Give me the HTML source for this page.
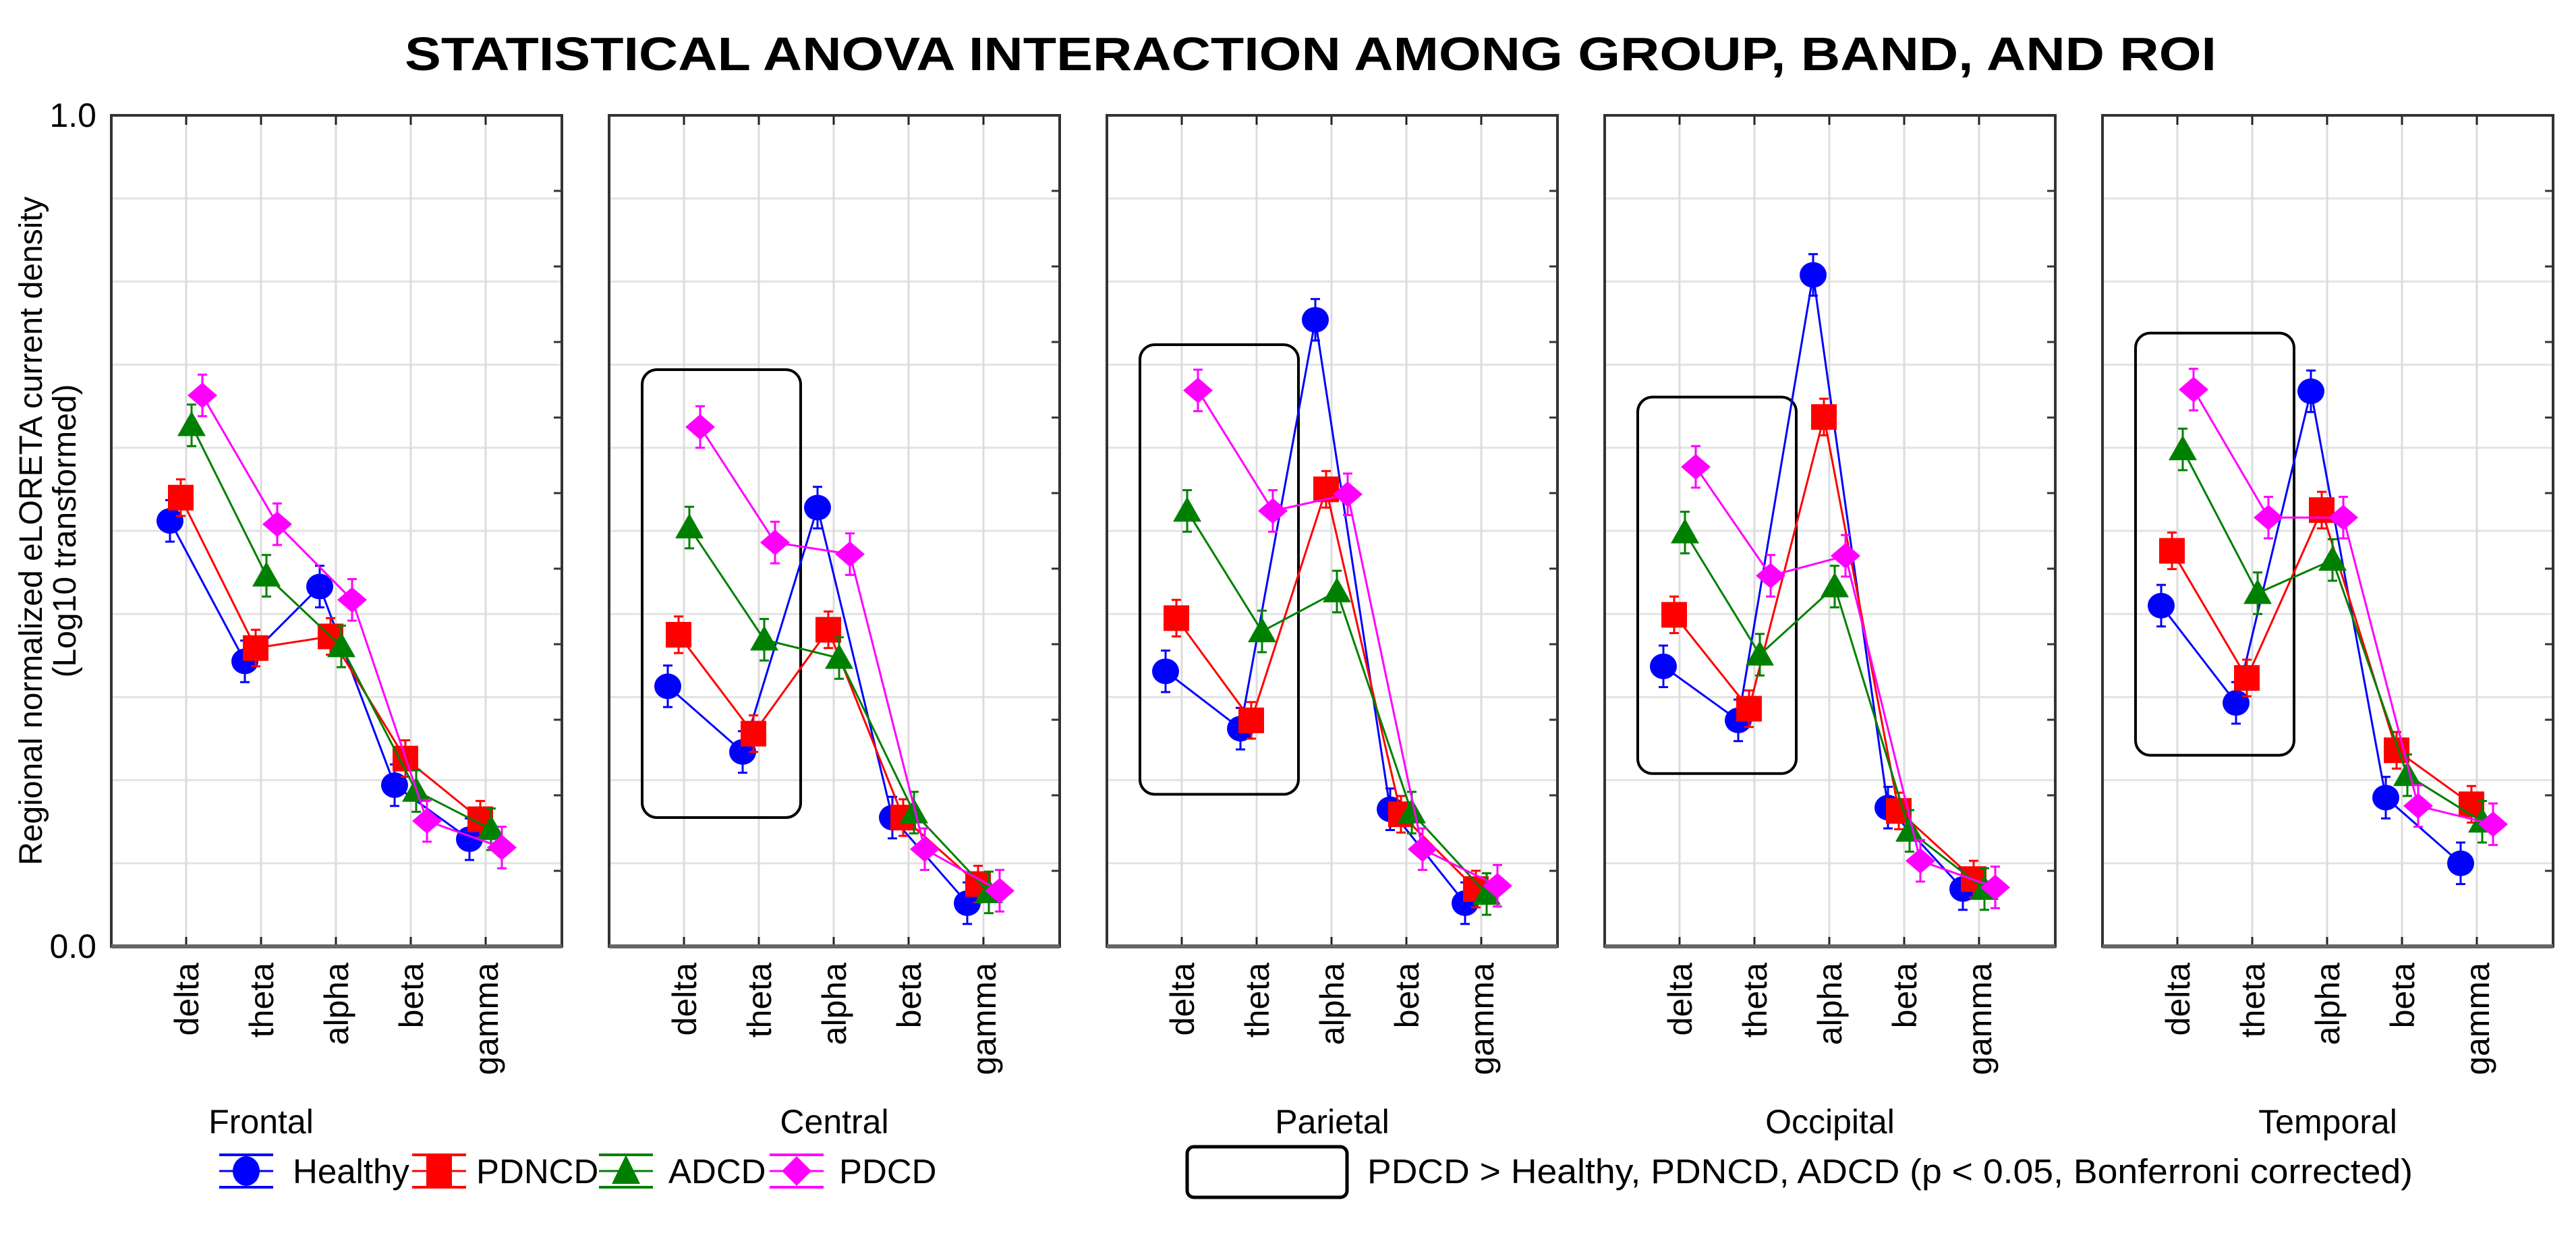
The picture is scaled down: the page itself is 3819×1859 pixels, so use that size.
<!DOCTYPE html>
<html><head><meta charset="utf-8"><style>
html,body{margin:0;padding:0;background:#fff;}
svg{display:block;font-family:"Liberation Sans",Arial,sans-serif;}
</style></head><body>
<svg id="chart" width="3819" height="1859" viewBox="0 0 3819 1859" xmlns="http://www.w3.org/2000/svg">
<text x="1943" y="104" text-anchor="middle" font-size="70" font-weight="bold" textLength="2686" lengthAdjust="spacingAndGlyphs">STATISTICAL ANOVA INTERACTION AMONG GROUP, BAND, AND ROI</text>
<g font-size="48">
<text x="62" y="787" text-anchor="middle" transform="rotate(-90 62 787)">Regional normalized eLORETA current density</text>
<text x="112" y="787" text-anchor="middle" transform="rotate(-90 112 787)">(Log10 transformed)</text>
</g>
<text x="143" y="188" text-anchor="end" font-size="50">1.0</text>
<text x="143" y="1420" text-anchor="end" font-size="50">0.0</text>
<g id="panels"></g>
<g id="legend"></g>
</svg>
<script>
const regions = ["Frontal","Central","Parietal","Occipital","Temporal"];
const bands = ["delta","theta","alpha","beta","gamma"];
const groups = ["Healthy","PDNCD","ADCD","PDCD"];
const healthy = [
 [0.512,0.343,0.433,0.194,0.129],
 [0.313,0.234,0.528,0.155,0.052],
 [0.331,0.262,0.754,0.165,0.052],
 [0.337,0.272,0.808,0.167,0.069],
 [0.410,0.293,0.668,0.179,0.100]];
const pdncd = [
 [0.540,0.359,0.373,0.226,0.153],
 [0.375,0.256,0.381,0.155,0.075],
 [0.395,0.272,0.550,0.159,0.069],
 [0.399,0.286,0.637,0.163,0.081],
 [0.476,0.323,0.525,0.236,0.171]];
const adcd = [
 [0.627,0.446,0.361,0.187,0.141],
 [0.504,0.369,0.347,0.161,0.065],
 [0.524,0.379,0.427,0.161,0.063],
 [0.498,0.351,0.433,0.139,0.069],
 [0.598,0.425,0.465,0.206,0.150]];
const pdcd = [
 [0.663,0.508,0.417,0.151,0.119],
 [0.625,0.486,0.472,0.117,0.067],
 [0.669,0.524,0.544,0.117,0.073],
 [0.577,0.446,0.470,0.103,0.071],
 [0.670,0.516,0.516,0.169,0.147]];
const errors = [0.025,0.022,0.025,0.025];
const boxRegions = [1,2,3,4];
const boxTop = [0,0.694,0.724,0.661,0.738];
const boxBottom = [0,0.155,0.183,0.208,0.230];
const seriesData = [healthy,pdncd,adcd,pdcd];
const colors = ["#0000ff","#ff0000","#008000","#ff00ff"];
const offsets = [-24,-8,8,24];
const NS="http://www.w3.org/2000/svg";
const top0=171, bot0=1403, pw=668, step=111;
function y(v){return bot0-(bot0-top0)*v;}
function px(r){return 165+r*738;}
function cx(r,i){return px(r)+step*(i+1);}
function mk(tag,attrs,parent){const e=document.createElementNS(NS,tag);for(const k in attrs)e.setAttribute(k,attrs[k]);parent.appendChild(e);return e;}
function marker(g,kind,x,yy,c,h){
 h=h||19;
 if(kind===0) return mk('ellipse',{cx:x,cy:yy,rx:20,ry:h,fill:c},g);
 if(kind===1) return mk('rect',{x:x-19,y:yy-h,width:38,height:2*h,fill:c},g);
 if(kind===2) return mk('polygon',{points:`${x},${yy-h-2} ${x+21},${yy+h-3} ${x-21},${yy+h-3}`,fill:c},g);
 return mk('polygon',{points:`${x},${yy-h} ${x+22},${yy} ${x},${yy+h} ${x-22},${yy}`,fill:c},g);
}
const P=document.getElementById('panels');
regions.forEach((reg,r)=>{
 const g=mk('g',{},P);
 
 
 const L=px(r),R=L+pw;
 for(let k=1;k<10;k++){const l=mk('line',{x1:L,x2:R,y1:y(k/10),y2:y(k/10),stroke:'#e3e3e3','stroke-width':3},g);
  }
 bands.forEach((b,i)=>{const l=mk('line',{x1:cx(r,i),x2:cx(r,i),y1:top0,y2:bot0,stroke:'#dcdcdc','stroke-width':3},g);
  
  mk('line',{x1:cx(r,i),x2:cx(r,i),y1:top0,y2:top0+14,stroke:'#222','stroke-width':3},g);
  mk('line',{x1:cx(r,i),x2:cx(r,i),y1:bot0,y2:bot0-14,stroke:'#222','stroke-width':3},g);
  const t=mk('text',{x:cx(r,i)+18,y:1427,'text-anchor':'end','font-size':50,transform:`rotate(-90 ${cx(r,i)+18} 1427)`},g);
  t.textContent=b;
 });
 for(let k=1;k<11;k++){mk('line',{x1:R,x2:R-12,y1:y(k/11),y2:y(k/11),stroke:'#333','stroke-width':3},g);}
 mk('rect',{x:L,y:top0,width:pw,height:bot0-top0,fill:'none',stroke:'#333','stroke-width':4},g);
 mk('line',{x1:L,x2:R,y1:bot0,y2:bot0,stroke:'#666','stroke-width':6},g);
 if(boxRegions.includes(r)){
  const b=mk('rect',{x:cx(r,0)-62,y:y(boxTop[r]),width:cx(r,1)-cx(r,0)+124,height:y(boxBottom[r])-y(boxTop[r]),rx:22,fill:'none',stroke:'#000','stroke-width':4},g);
  
 }
 seriesData.forEach((sd,s)=>{
  const sg=mk('g',{},g);
  
  
  const pts=sd[r].map((v,i)=>`${cx(r,i)+offsets[s]},${y(v)}`).join(' ');
  mk('polyline',{points:pts,fill:'none',stroke:colors[s],'stroke-width':3},sg);
  sd[r].forEach((v,i)=>{
   const xx=cx(r,i)+offsets[s];
   const e=errors[s];
   mk('line',{x1:xx,x2:xx,y1:y(v+e),y2:y(v-e),stroke:colors[s],'stroke-width':3},sg);
   mk('line',{x1:xx-7,x2:xx+7,y1:y(v+e),y2:y(v+e),stroke:colors[s],'stroke-width':3},sg);
   mk('line',{x1:xx-7,x2:xx+7,y1:y(v-e),y2:y(v-e),stroke:colors[s],'stroke-width':3},sg);
   const m=marker(sg,s,xx,y(v),colors[s]);
   
   
  });
 });
 const lx = r===0 ? 387 : L+pw/2;
 const lt=mk('text',{x:lx,y:1680,'text-anchor':'middle','font-size':50},g);
 lt.textContent=reg;
 
 
});
const Lg=document.getElementById('legend');
const legMarkX=[365,651,928,1181], legTextX=[434,706,991,1244];
groups.forEach((gname,s)=>{
 const g=mk('g',{},Lg);
 
 
 const x=legMarkX[s],yy=1736;
 mk('line',{x1:x-40,x2:x+40,y1:yy,y2:yy,stroke:colors[s],'stroke-width':3},g);
 mk('line',{x1:x-40,x2:x+40,y1:yy-24,y2:yy-24,stroke:colors[s],'stroke-width':4},g);
 mk('line',{x1:x-40,x2:x+40,y1:yy+24,y2:yy+24,stroke:colors[s],'stroke-width':4},g);
 marker(g,s,x,yy,colors[s],22);
 const t=mk('text',{x:legTextX[s],y:1754,'font-size':51},g);t.textContent=gname;
});
const bg=mk('g',{},Lg);


mk('rect',{x:1760,y:1700,width:237,height:75,rx:10,fill:'none',stroke:'#000','stroke-width':5},bg);
const bt=mk('text',{x:2027,y:1754,'font-size':51,textLength:1550,lengthAdjust:'spacingAndGlyphs'},bg);
bt.textContent='PDCD > Healthy, PDNCD, ADCD (p < 0.05, Bonferroni corrected)';
</script>
</body></html>
